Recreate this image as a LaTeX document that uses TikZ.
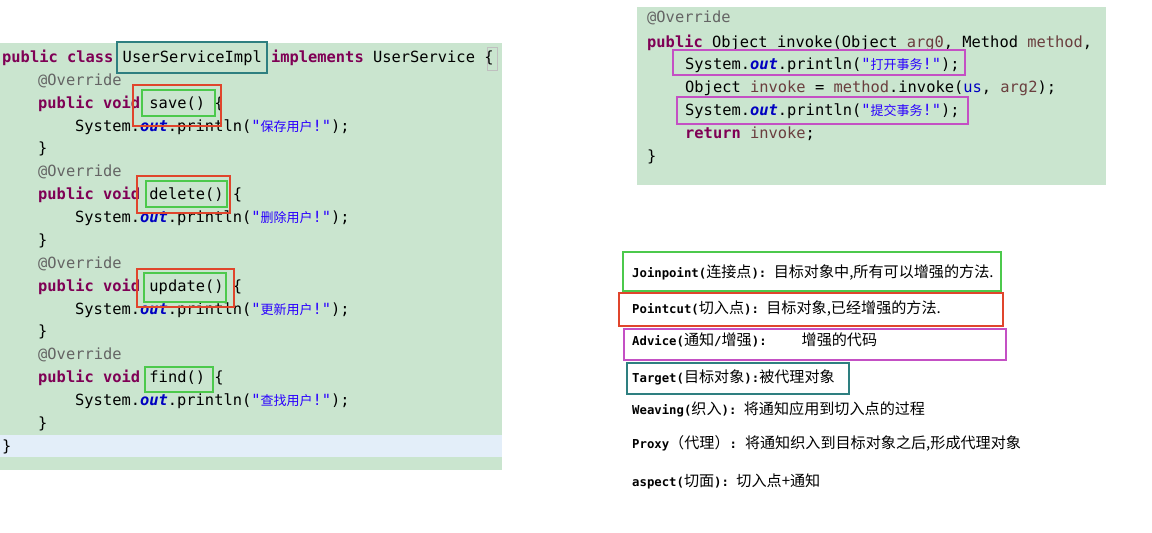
\documentclass[tikz,border=0pt]{standalone}
\usepackage{fontspec}
\setmonofont{DejaVu Sans Mono}
\newfontfamily\cjk{Noto Sans CJK SC}
\definecolor{kwc}{HTML}{7F0055}
\definecolor{annc}{HTML}{646464}
\definecolor{outc}{HTML}{0000C0}
\definecolor{strc}{HTML}{2A00FF}
\definecolor{varc}{HTML}{6A3E3E}
\definecolor{codebg}{HTML}{CAE5CF}
\definecolor{linebg}{HTML}{E3EEF9}
\definecolor{boxred}{HTML}{E0452C}
\definecolor{boxgreen}{HTML}{4CC94C}
\definecolor{boxteal}{HTML}{2E7F80}
\definecolor{boxmag}{HTML}{C450C4}
\newcommand\jkw[1]{{\bfseries\color{kwc}#1}}
\newcommand\jann[1]{{\color{annc}#1}}
\newcommand\jout{{\bfseries\itshape\color{outc}out}}
\newcommand\jzh[1]{{\cjk\fontsize{13}{13}\selectfont #1}}
\newcommand\jstr[1]{{\color{strc}"\jzh{#1}!"}}
\newcommand\jvar[1]{{\color{varc}#1}}
\newcommand\mylat{\ttfamily\bfseries\fontsize{12.3}{14}\selectfont}
\newcommand\myzh{\cjk\mdseries\fontsize{15.1}{17}\selectfont}
\begin{document}
\begin{tikzpicture}[x=1pt,y=-1pt,
  code/.style={anchor=base west, inner sep=0pt, font=\ttfamily\fontsize{15.4}{18}\selectfont},
  term/.style={anchor=base west, inner sep=0pt},
  hbox/.style={line width=1.2pt}]
\useasboundingbox[fill=white] (0,0) rectangle (1152,533);
% left panel
\fill[codebg] (0,43) rectangle (502,470);
\fill[linebg] (0,435) rectangle (502,457);
\draw[black!25, line width=0.6pt] (487,47) rectangle (497,70);
\node[code] (l1) at (2,62) {\jkw{public} \jkw{class} UserServiceImpl \jkw{implements} UserService \{};
\node[code] (l2) at (38,85) {\jann{@Override}};
\node[code] (l3) at (38,108) {\jkw{public} \jkw{void} save() \{};
\node[code] (l4) at (75,131) {System.\jout.println(\jstr{保存用户});};
\node[code] (l5) at (38,153) {\}};
\node[code] (l6) at (38,176) {\jann{@Override}};
\node[code] (l7) at (38,199) {\jkw{public} \jkw{void} delete() \{};
\node[code] (l8) at (75,222) {System.\jout.println(\jstr{删除用户});};
\node[code] (l9) at (38,245) {\}};
\node[code] (l10) at (38,268) {\jann{@Override}};
\node[code] (l11) at (38,291) {\jkw{public} \jkw{void} update() \{};
\node[code] (l12) at (75,314) {System.\jout.println(\jstr{更新用户});};
\node[code] (l13) at (38,336) {\}};
\node[code] (l14) at (38,359) {\jann{@Override}};
\node[code] (l15) at (38,382) {\jkw{public} \jkw{void} find() \{};
\node[code] (l16) at (75,405) {System.\jout.println(\jstr{查找用户});};
\node[code] (l17) at (38,428) {\}};
\node[code] (l18) at (2,451) {\}};
% left boxes
\draw[boxteal, hbox] (117,42) rectangle (267,73);
\draw[boxred, hbox] (133,85) rectangle (221,126);
\draw[boxgreen, hbox] (142,90) rectangle (215,116);
\draw[boxred, hbox] (137,176) rectangle (230,213);
\draw[boxgreen, hbox] (146,181) rectangle (227,207);
\draw[boxred, hbox] (137,269) rectangle (234,307);
\draw[boxgreen, hbox] (144,273) rectangle (226,302);
\draw[boxgreen, hbox] (145,367) rectangle (213,392);
% right panel
\fill[codebg] (637,7) rectangle (1106,185);
\node[code] (r1) at (647,22) {\jann{@Override}};
\node[code] (r2) at (647,47) {\jkw{public} Object invoke(Object \jvar{arg0}, Method \jvar{method},};
\node[code] (r3) at (685,69) {System.\jout.println(\jstr{打开事务});};
\node[code] (r4) at (685,92) {Object \jvar{invoke} = \jvar{method}.invoke({\color{outc}us}, \jvar{arg2});};
\node[code] (r5) at (685,115) {System.\jout.println(\jstr{提交事务});};
\node[code] (r6) at (685,138) {\jkw{return} \jvar{invoke};};
\node[code] (r7) at (647,161) {\}};
\draw[boxmag, hbox] (673,50) rectangle (965,75);
\draw[boxmag, hbox] (677,97) rectangle (968,124);
% terms
\draw[boxgreen, hbox] (623,252) rectangle (1001,291);
\draw[boxred, hbox] (619,293) rectangle (1003,326);
\draw[boxmag, hbox] (624,329) rectangle (1006,360);
\draw[boxteal, hbox] (627,363) rectangle (849,394);
\node[term] (t1) at (632,277) {\mylat Joinpoint(\myzh 连接点\mylat):\ \myzh 目标对象中,所有可以增强的方法.};
\node[term] (t2) at (632,313) {\mylat Pointcut(\myzh 切入点\mylat):\ \myzh 目标对象,已经增强的方法.};
\node[term] (t3) at (632,345) {\mylat Advice(\myzh 通知\mylat/\myzh 增强\mylat):\hspace{35pt}\myzh 增强的代码};
\node[term] (t4) at (632,382) {\mylat Target(\myzh 目标对象\mylat):\myzh 被代理对象};
\node[term] (t5) at (632,414) {\mylat Weaving(\myzh 织入\mylat):\ \myzh 将通知应用到切入点的过程};
\node[term] (t6) at (632,448) {\mylat Proxy\myzh （代理）\mylat:\hspace{8pt}\myzh 将通知织入到目标对象之后,形成代理对象};
\node[term] (t7) at (632,486) {\mylat aspect(\myzh 切面\mylat):\ \myzh 切入点+通知};
\end{tikzpicture}
\end{document}
